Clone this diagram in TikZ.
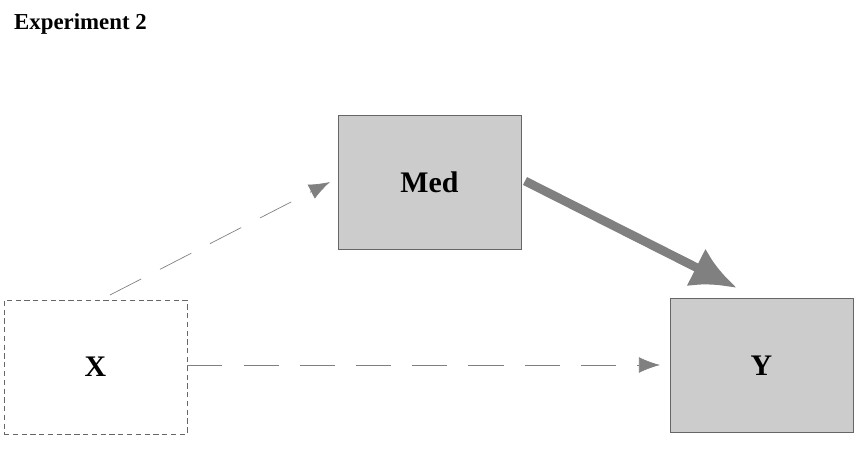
\documentclass[tikz,border=0pt]{standalone}
\usetikzlibrary{arrows.meta, positioning}
\usepackage{fontspec}
\setmainfont{Liberation Serif}

\begin{document}
\begin{tikzpicture}[x=0.02cm, y=-0.02cm, font=\bfseries]
    \tikzstyle{var}=[rectangle, minimum width=183*0.02cm, minimum height=134*0.02cm, inner sep=0pt, font=\fontsize{17}{20}\selectfont\bfseries]
    \tikzstyle{filled var}=[var, fill=black!20, draw=black!60]
    \tikzstyle{open var}=[var, draw=black!60, dashed, dash pattern=on 3pt off 2pt]
    \tikzstyle{path dash}=[draw=black!50, -{Latex[length=12pt, width=9pt]}, dash pattern=on 20pt off 12pt]

    \useasboundingbox (0,0) rectangle (867,459);
    \node[anchor=base west, font=\fontsize{13}{15}\selectfont\bfseries] (title) at (8,30) {Experiment 2};

    \node[open var] (X) at (95.5,367) {X};
    \node[filled var] (M) at (429.5,182) {Med};
    \node[filled var] (Y) at (761.5,365.5) {Y};

    \coordinate (xm) at (110,295);
    \coordinate (mx) at (330,182);
    \coordinate (my) at (525,181);
    \coordinate (ym) at (737,288);
    \coordinate (xy) at (660,365);

    \draw[path dash] (xm) -- (mx);
    \draw[path dash] (X.east |- xy) -- (xy);
    \draw[draw=black!50, line width=5pt, -{Latex[length=26pt, width=24pt]}] (my) -- (ym);
\end{tikzpicture}
\end{document}
